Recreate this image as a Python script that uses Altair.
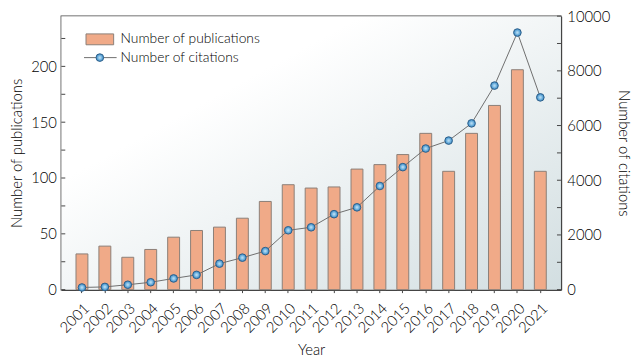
import altair as alt
import pandas as pd

years = ["2001", "2002", "2003", "2004", "2005", "2006", "2007", "2008", "2009", "2010",
         "2011", "2012", "2013", "2014", "2015", "2016", "2017", "2018", "2019", "2020", "2021"]
publications = [32, 39, 29, 36, 47, 53, 56, 64, 79, 94, 91, 92, 108, 112, 121, 140, 106, 140, 165, 197, 106]
citations = [80, 100, 180, 270, 410, 540, 950, 1170, 1410, 2170, 2280, 2760, 3010, 3790, 4480,
             5160, 5450, 6080, 7460, 9400, 7030]
pub_ticks = [0, 25, 50, 75, 100, 125, 150, 175, 200, 225]
pub_labels = [0, 50, 100, 150, 200]
cit_ticks = [0, 1000, 2000, 3000, 4000, 5000, 6000, 7000, 8000, 9000, 10000]
cit_labels = [0, 2000, 4000, 6000, 8000, 10000]
legend_pub = "Number of publications"
legend_cit = "Number of citations"

W, H = 506, 277
PUB_MAX = 245
CIT_MAX = 10000
FONT = "Lato"
AX = "#444444"
TXT = "#000000"
WEIGHT = 300

df = pd.DataFrame({"Year": years, "Publications": publications, "Citations": citations})
one = pd.DataFrame({"a": [0]})

xenc = alt.X(
    "Year:N", sort=years,
    scale=alt.Scale(paddingInner=0.48, paddingOuter=0.64),
    axis=alt.Axis(title="Year", labelAngle=315, labelAlign="right", labelBaseline="top",
                  labelPadding=8, ticks=True, tickSize=3, tickColor=AX, tickWidth=1,
                  domainColor=AX, domainWidth=1.5, titlePadding=7),
)

bg = alt.Chart(one).mark_rect(
    color=alt.LinearGradient(
        gradient="linear",
        stops=[alt.GradientStop(color="#ffffff", offset=0),
               alt.GradientStop(color="#ffffff", offset=0.3),
               alt.GradientStop(color="#d2dee1", offset=1)],
        x1=0, y1=0, x2=1, y2=1)
).encode(x=alt.value(0), x2=alt.value(W), y=alt.value(0), y2=alt.value(H))

bars = alt.Chart(df).mark_bar(color="#f0aa88", stroke="#8a7f78", strokeWidth=1).encode(
    x=xenc,
    y=alt.Y("Publications:Q", scale=alt.Scale(domain=[0, PUB_MAX], nice=False),
            axis=alt.Axis(title="Number of publications", orient="left", values=pub_labels,
                          format="d", ticks=False, grid=False, domainColor=AX, domainWidth=1.5,
                          labelPadding=5, titlePadding=6)),
)

pub_tick_rules = alt.Chart(pd.DataFrame({"v": pub_ticks})).mark_rule(color=AX, strokeWidth=1).encode(
    y=alt.Y("v:Q", scale=alt.Scale(domain=[0, PUB_MAX], nice=False), axis=None),
    x=alt.value(0), x2=alt.value(4),
)

line = alt.Chart(df).mark_line(color="#6e6e6e", strokeWidth=1).encode(
    x=xenc,
    y=alt.Y("Citations:Q", scale=alt.Scale(domain=[0, CIT_MAX], nice=False),
            axis=alt.Axis(title="Number of citations", orient="right", values=cit_labels,
                          format="d", ticks=False, grid=False, domainColor=AX, domainWidth=1.5,
                          labelPadding=6, titlePadding=6)),
)

dot_fill = alt.RadialGradient(
    gradient="radial",
    stops=[alt.GradientStop(color="#cfeaf9", offset=0),
           alt.GradientStop(color="#5aa5d8", offset=0.7),
           alt.GradientStop(color="#3f87c0", offset=1)],
)

points = alt.Chart(df).mark_point(filled=True, shape="circle", size=60, fill=dot_fill,
                                  stroke="#2d5f8a", strokeWidth=1, opacity=1).encode(
    x=xenc,
    y=alt.Y("Citations:Q", scale=alt.Scale(domain=[0, CIT_MAX], nice=False), axis=None),
)

cit_tick_rules = alt.Chart(pd.DataFrame({"v": cit_ticks})).mark_rule(color=AX, strokeWidth=1).encode(
    y=alt.Y("v:Q", scale=alt.Scale(domain=[0, CIT_MAX], nice=False), axis=None),
    x=alt.value(W - 4), x2=alt.value(W),
)

leg_rect = alt.Chart(one).mark_rect(color="#f0aa88", stroke="#8a7f78", strokeWidth=1).encode(
    x=alt.value(25), x2=alt.value(53), y=alt.value(18), y2=alt.value(29))
leg_text1 = alt.Chart(one).mark_text(text=legend_pub, font=FONT, fontSize=14, fontWeight=WEIGHT,
                                     align="left", baseline="middle", color=TXT).encode(
    x=alt.value(60), y=alt.value(23.5))
leg_line = alt.Chart(one).mark_rule(color="#6e6e6e", strokeWidth=1).encode(
    x=alt.value(23), x2=alt.value(56), y=alt.value(42))
leg_dot = alt.Chart(one).mark_point(filled=True, shape="circle", size=60, fill=dot_fill,
                                    stroke="#2d5f8a", strokeWidth=1, opacity=1).encode(
    x=alt.value(39), y=alt.value(42))
leg_text2 = alt.Chart(one).mark_text(text=legend_cit, font=FONT, fontSize=14, fontWeight=WEIGHT,
                                     align="left", baseline="middle", color=TXT).encode(
    x=alt.value(60), y=alt.value(42))

chart = alt.layer(
    bg, bars, pub_tick_rules, line, points, cit_tick_rules,
    leg_rect, leg_text1, leg_line, leg_dot, leg_text2,
).resolve_scale(y="independent").properties(
    width=W, height=H,
    autosize=alt.AutoSizeParams(type="none"),
    padding={"left": 54, "top": 6, "right": 75, "bottom": 69},
).configure_view(
    stroke=AX, strokeWidth=1.5,
).configure_axis(
    labelFont=FONT, titleFont=FONT, labelFontSize=15, titleFontSize=15,
    labelColor=TXT, titleColor=TXT, labelFontWeight=WEIGHT, titleFontWeight=WEIGHT,
)

chart.save("out.html", embed_options={"renderer": "svg", "actions": False})
